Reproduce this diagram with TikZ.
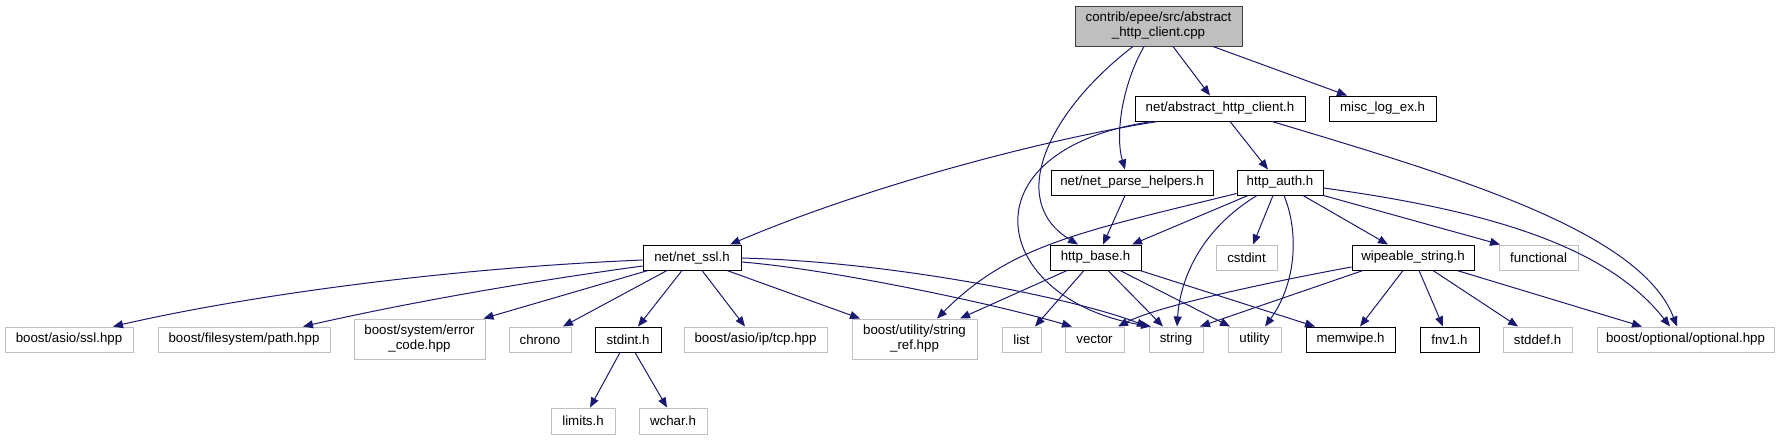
\documentclass[tikz,border=0pt]{standalone}
\usepackage{fontspec}
\setmainfont{Liberation Sans}
\usetikzlibrary{arrows.meta,calc}
\definecolor{edgec}{HTML}{191970}
\definecolor{grayc}{HTML}{BFBFBF}
\definecolor{mainfill}{HTML}{BFBFBF}
\tikzset{
  doc/.style={draw=black, line width=1pt, fill=white, inner sep=0pt, font=\fontsize{13.3}{15}\selectfont, align=center, minimum height=25pt},
  ext/.style={doc, draw=grayc},
  twol/.style={minimum height=40pt},
  dep/.style={draw=edgec, line width=1pt, -{Triangle[length=10pt,width=8pt]}}
}
\begin{document}
\begin{tikzpicture}[x=1pt,y=-1pt]
\useasboundingbox (0,0) rectangle (1779,440);
% nodes
\node[doc, twol, fill=mainfill, draw=black!75, minimum width=167pt] (main) at (1158.5,26) {contrib/epee/src/abstract\\\_http\_client.cpp};
\node[doc, minimum width=170pt] (abs) at (1220,108.5) {net/abstract\_http\_client.h};
\node[doc, minimum width=107pt] (misc) at (1382.5,108.5) {misc\_log\_ex.h};
\node[doc, minimum width=162pt] (parse) at (1132,182.5) {net/net\_parse\_helpers.h};
\node[doc, minimum width=86pt] (auth) at (1280,182.5) {http\_auth.h};
\node[doc, minimum width=98pt] (ssl) at (692,257.5) {net/net\_ssl.h};
\node[doc, minimum width=91pt] (base) at (1095.5,257.5) {http\_base.h};
\node[ext, minimum width=61pt] (cstdint) at (1246.5,257.5) {cstdint};
\node[doc, minimum width=122pt] (wipe) at (1413,257.5) {wipeable\_string.h};
\node[ext, minimum width=79pt] (functional) at (1538.5,257.5) {functional};
\node[ext, minimum width=128pt] (asiossl) at (69,339.5) {boost/asio/ssl.hpp};
\node[ext, minimum width=172pt] (fspath) at (244,339.5) {boost/filesystem/path.hpp};
\node[ext, twol, minimum width=131pt] (errcode) at (419.5,339) {boost/system/error\\\_code.hpp};
\node[ext, minimum width=62pt] (chrono) at (540,339.5) {chrono};
\node[doc, minimum width=66pt] (stdint) at (628,339.5) {stdint.h};
\node[ext, minimum width=143pt] (tcp) at (755.5,339.5) {boost/asio/ip/tcp.hpp};
\node[ext, twol, minimum width=125pt] (strref) at (914.5,339) {boost/utility/string\\\_ref.hpp};
\node[ext, minimum width=39pt] (list) at (1021.5,339.5) {list};
\node[ext, minimum width=59pt] (vector) at (1094.5,339.5) {vector};
\node[ext, minimum width=54pt] (string) at (1176,339.5) {string};
\node[ext, minimum width=53pt] (utility) at (1254.5,339.5) {utility};
\node[doc, minimum width=89pt] (memwipe) at (1350.5,339.5) {memwipe.h};
\node[doc, minimum width=59pt] (fnv) at (1449.5,339.5) {fnv1.h};
\node[ext, minimum width=69pt] (stddef) at (1537.5,339.5) {stddef.h};
\node[ext, minimum width=177pt] (optional) at (1685.5,339.5) {boost/optional/optional.hpp};
\node[ext, minimum width=64pt, minimum height=26pt] (limits) at (583,421) {limits.h};
\node[ext, minimum width=68pt, minimum height=26pt] (wchar) at (673,421) {wchar.h};
% edges from main
\draw[dep] ($(main.south)+(-25.5,0)$) .. controls (1050,110) and (1005,200) .. ($(base.north)+(-17.5,0)$);
\draw[dep] ($(main.south)+(-14.5,0)$) .. controls (1122,85) and (1115,135) .. ($(parse.north)+(-7,0)$);
\draw[dep] ($(main.south)+(14.5,0)$) -- ($(abs.north)+(-10,0)$);
\draw[dep] ($(main.south)+(54.5,0)$) -- ($(misc.north)+(-35.5,0)$);
% edges from abs
\draw[dep] ($(abs.south)+(-62,0)$) .. controls (1050,138) and (870,185) .. ($(ssl.north)+(38,0)$);
\draw[dep] ($(abs.south)+(-68,0)$) .. controls (960,150) and (990,300) .. ($(string.north)+(-25,0)$);
\draw[dep] ($(abs.south)+(10,0)$) -- ($(auth.north)+(-12,0)$);
\draw[dep] ($(abs.south)+(52,0)$) .. controls (1450,175) and (1640,230) .. ($(optional.north)+(-8.5,0)$);
% parse
\draw[dep] ($(parse.south)+(-7,0)$) -- ($(base.north)+(7.5,0)$);
% auth
\draw[dep] ($(auth.south west)+(0,-2)$) .. controls (1080,232) and (1010,245) .. ($(strref.north)+(22.5,0)$);
\draw[dep] ($(auth.south)+(-32,0)$) -- ($(base.north)+(36.5,0)$);
\draw[dep] ($(auth.south)+(-23,0)$) .. controls (1200,230) and (1180,280) .. ($(string.north)+(1,0)$);
\draw[dep] ($(auth.south)+(-7,0)$) -- ($(cstdint.north)+(6.5,0)$);
\draw[dep] ($(auth.south)+(4,0)$) .. controls (1300,235) and (1295,285) .. ($(utility.north)+(10.5,0)$);
\draw[dep] ($(auth.south)+(23,0)$) -- ($(wipe.north)+(-25,0)$);
\draw[dep] (auth.south east) -- ($(functional.north)+(-38.5,0)$);
\draw[dep] ($(auth.east)+(0,5.5)$) .. controls (1500,212) and (1610,250) .. ($(optional.north)+(-15.5,0)$);
% ssl
\draw[dep] ($(ssl.west)+(0,2.5)$) .. controls (450,268) and (250,295) .. ($(asiossl.north)+(44,0)$);
\draw[dep] ($(ssl.west)+(0,8.5)$) .. controls (540,280) and (420,300) .. ($(fspath.north)+(59,0)$);
\draw[dep] ($(ssl.south)+(-44,0)$) -- ($(errcode.north)+(64,0)$);
\draw[dep] ($(ssl.south)+(-25,0)$) -- ($(chrono.north)+(23,0)$);
\draw[dep] ($(ssl.south)+(-10,0)$) -- ($(stdint.north)+(10,0)$);
\draw[dep] ($(ssl.south)+(10,0)$) -- ($(tcp.north)+(-10.5,0)$);
\draw[dep] ($(ssl.south)+(35,0)$) -- ($(strref.north)+(-54.5,0)$);
\draw[dep] ($(ssl.east)+(0,4.5)$) .. controls (820,268) and (980,300) .. ($(vector.north)+(-22.5,0)$);
\draw[dep] ($(ssl.east)+(0,0.5)$) .. controls (900,262) and (1080,300) .. ($(string.north)+(-29,0)$);
% stdint
\draw[dep] ($(stdint.south)+(-8,0)$) -- ($(limits.north)+(7,0)$);
\draw[dep] ($(stdint.south)+(7,0)$) -- ($(wchar.north)+(-6,0)$);
% base
\draw[dep] ($(base.south)+(-28.5,0)$) -- ($(strref.north)+(45.5,0)$);
\draw[dep] ($(base.south)+(-11.5,0)$) -- ($(list.north)+(13.5,0)$);
\draw[dep] ($(base.south)+(12.5,0)$) -- ($(string.north)+(-13,0)$);
\draw[dep] ($(base.south)+(24.5,0)$) -- ($(utility.north)+(-24.5,0)$);
\draw[dep] ($(base.south)+(44.5,0)$) -- ($(memwipe.north)+(-35.5,0)$);
% wipe
\draw[dep] ($(wipe.west)+(0,9.5)$) .. controls (1280,280) and (1160,305) .. ($(vector.north)+(23.5,0)$);
\draw[dep] ($(wipe.south)+(-50,0)$) -- ($(string.north)+(24,0)$);
\draw[dep] ($(wipe.south)+(-10,0)$) -- ($(memwipe.north)+(9.5,0)$);
\draw[dep] ($(wipe.south)+(6,0)$) -- ($(fnv.north)+(-6.5,0)$);
\draw[dep] ($(wipe.south)+(20,0)$) -- ($(stddef.north)+(-19.5,0)$);
\draw[dep] ($(wipe.south)+(44,0)$) -- ($(optional.north)+(-43.5,0)$);
\end{tikzpicture}
\end{document}
